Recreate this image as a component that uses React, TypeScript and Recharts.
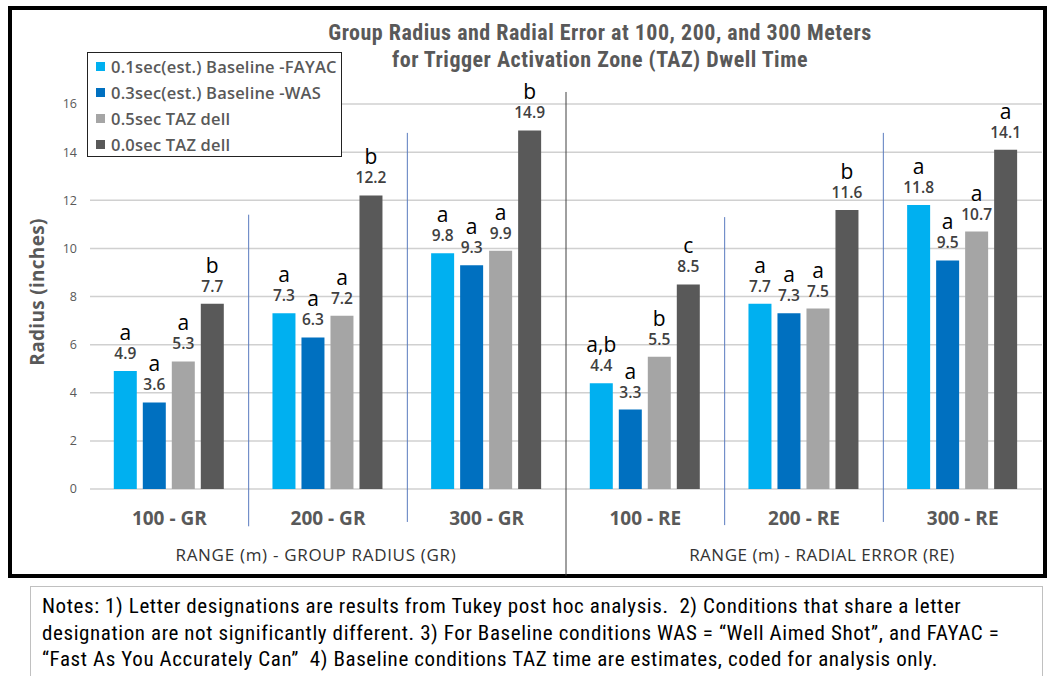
import React from 'react';
import { BarChart, Bar, XAxis, YAxis, CartesianGrid, Legend, LabelList, ReferenceLine } from 'recharts';

const categories = ['100 - GR', '200 - GR', '300 - GR', '100 - RE', '200 - RE', '300 - RE'];
const yTicks = [0, 2, 4, 6, 8, 10, 12, 14, 16];

const seriesNames = ['0.1sec(est.) Baseline -FAYAC', '0.3sec(est.) Baseline -WAS', '0.5sec TAZ dell', '0.0sec TAZ dell'];
const seriesColors = ['#00B0F0', '#0070C0', '#A5A5A5', '#595959'];

const fayac = [4.9, 7.3, 9.8, 4.4, 7.7, 11.8];
const was = [3.6, 6.3, 9.3, 3.3, 7.3, 9.5];
const taz05 = [5.3, 7.2, 9.9, 5.5, 7.5, 10.7];
const taz00 = [7.7, 12.2, 14.9, 8.5, 11.6, 14.1];

// Tukey letters above each bar
const fayacLetters = ['a', 'a', 'a', 'a,b', 'a', 'a'];
const wasLetters = ['a', 'a', 'a', 'a', 'a', 'a'];
const taz05Letters = ['a', 'a', 'a', 'b', 'a', 'a'];
const taz00Letters = ['b', 'b', 'b', 'c', 'b', 'a'];

const noteLines = [
  'Notes: 1) Letter designations are results from Tukey post hoc analysis.  2) Conditions that share a letter',
  'designation are not significantly different. 3) For Baseline conditions WAS = \u201cWell Aimed Shot\u201d, and FAYAC =',
  '\u201cFast As You Accurately Can\u201d  4) Baseline conditions TAZ time are estimates, coded for analysis only.',
];

const data = categories.map((cat, i) => ({
  cat,
  fayac: fayac[i],
  was: was[i],
  taz05: taz05[i],
  taz00: taz00[i],
}));

const seriesKeys = ['fayac', 'was', 'taz05', 'taz00'];
const seriesLetters = [fayacLetters, wasLetters, taz05Letters, taz00Letters];

// divider lines between groups: [category whose left edge, top value, bottom value, colour]
const dividers: [string, number, number, string][] = [
  ['200 - GR', 11.4, -1.55, '#5a7bbf'],
  ['300 - GR', 14.8, -1.37, '#5a7bbf'],
  ['100 - RE', 16.5, -3.6, '#404040'],
  ['200 - RE', 11.3, -1.5, '#5a7bbf'],
  ['300 - RE', 14.8, -1.37, '#5a7bbf'],
];

const SANS = "'Open Sans', 'Noto Sans', sans-serif";
const NARROW = "'Liberation Sans Narrow', 'Roboto Condensed', 'Liberation Sans', sans-serif";

function makeLabel(letters: string[]) {
  return (props: any) => {
    const { x, y, width, value, index } = props;
    const cx = Number(x) + Number(width) / 2;
    const top = Number(y);
    return (
      <g>
        <text x={cx} y={top - 31} textAnchor="middle" fontFamily={SANS} fontSize={21} fill="#000">
          {letters[index]}
        </text>
        <text x={cx} y={top - 12} textAnchor="middle" fontFamily={SANS} fontSize={15.5} fontWeight={600} fill="#404040">
          {value}
        </text>
      </g>
    );
  };
}

function CatTick(props: any) {
  const { x, y, payload } = props;
  return (
    <text x={x} y={Number(y) + 36} textAnchor="middle" fontFamily={SANS} fontSize={19} fontWeight={700} fill="#595959">
      {payload.value}
    </text>
  );
}

function LegendBox(props: any) {
  const items = [...(props.payload || [])].sort(
    (a: any, b: any) => seriesNames.indexOf(a.value) - seriesNames.indexOf(b.value)
  );
  return (
    <div
      style={{
        width: 255,
        height: 105,
        boxSizing: 'border-box',
        border: '1.5px solid #222',
        background: '#fff',
        paddingTop: 0,
      }}
    >
      {items.map((item: any) => (
        <div key={item.value} style={{ display: 'flex', alignItems: 'center', height: 26, paddingLeft: 8 }}>
          <span style={{ width: 9, height: 9, background: item.color, marginRight: 6, display: 'inline-block' }} />
          <span
            style={{
              fontFamily: SANS,
              fontSize: 16.5,
              letterSpacing: 0.2,
              fontWeight: 600,
              color: '#595959',
              whiteSpace: 'nowrap',
            }}
          >
            {item.value}
          </span>
        </div>
      ))}
    </div>
  );
}

export default function App() {
  return (
    <div style={{ position: 'absolute', left: 0, top: 0, width: 1050, height: 676, overflow: 'hidden', background: '#fff' }}>
      <div
        style={{
          position: 'absolute',
          left: 8,
          top: 6,
          width: 1039,
          height: 572,
          boxSizing: 'border-box',
          border: '4px solid #000',
        }}
      />
      <div style={{ position: 'absolute', left: 0, top: 0 }}>
        <BarChart
          width={1050}
          height={580}
          data={data}
          margin={{ top: 104, right: 8, bottom: 51, left: 30 }}
          barCategoryGap="15%"
          barGap={6}
        >
          <CartesianGrid vertical={false} stroke="#d0d0d0" strokeWidth={1.5} />
          <XAxis
            dataKey="cat"
            height={40}
            interval={0}
            tickLine={false}
            axisLine={false}
            tickSize={0}
            tickMargin={0}
            tick={<CatTick />}
          />
          <YAxis
            domain={[0, 16]}
            ticks={yTicks}
            width={60}
            tickLine={false}
            axisLine={false}
            tickSize={0}
            tickMargin={13}
            tick={{ fill: '#595959', fontSize: 12.5, fontFamily: SANS }}
          />
          <Legend
            layout="vertical"
            align="center"
            verticalAlign="middle"
            content={<LegendBox />}
            wrapperStyle={{ left: 87, top: 52, width: 255, height: 105 }}
          />
          {dividers.map(([cat, top, bottom, color]) => (
            <ReferenceLine
              key={cat}
              segment={[{ x: cat, y: top }, { x: cat, y: bottom }]}
              position="start"
              stroke={color}
              strokeWidth={1}
              ifOverflow="visible"
            />
          ))}
          {seriesKeys.map((key, i) => (
            <Bar key={key} dataKey={key} name={seriesNames[i]} fill={seriesColors[i]} isAnimationActive={false}>
              <LabelList dataKey={key} content={makeLabel(seriesLetters[i])} />
            </Bar>
          ))}
        </BarChart>
      </div>
      <svg width={1050} height={676} style={{ position: 'absolute', left: 0, top: 0, pointerEvents: 'none' }}>
        <text
          x={600}
          y={40}
          textAnchor="middle"
          fontFamily={NARROW}
          fontSize={22}
          letterSpacing={0.5}
          fontWeight={700}
          fill="#595959"
        >
          Group Radius and Radial Error at 100, 200, and 300 Meters
        </text>
        <text
          x={600}
          y={67}
          textAnchor="middle"
          fontFamily={NARROW}
          fontSize={22}
          letterSpacing={0.5}
          fontWeight={700}
          fill="#595959"
        >
          for Trigger Activation Zone (TAZ) Dwell Time
        </text>
        <text
          x={44}
          y={292}
          transform="rotate(-90 44 292)"
          textAnchor="middle"
          fontFamily={SANS}
          fontSize={19}
          letterSpacing={0.3}
          fontWeight={700}
          fill="#595959"
        >
          Radius (inches)
        </text>
        <text x={316} y={561} textAnchor="middle" fontFamily={SANS} fontSize={17} letterSpacing={0.7} fill="#333">
          RANGE (m) - GROUP RADIUS (GR)
        </text>
        <text x={822} y={561} textAnchor="middle" fontFamily={SANS} fontSize={17} letterSpacing={0.5} fill="#333">
          RANGE (m) - RADIAL ERROR (RE)
        </text>
      </svg>
      <div
        style={{
          position: 'absolute',
          left: 30,
          top: 586,
          width: 1013,
          height: 110,
          boxSizing: 'border-box',
          border: '1px solid #c0c0c0',
          padding: '6px 0 0 11px',
          fontFamily: NARROW,
          fontSize: 21,
          letterSpacing: 0.6,
          lineHeight: '26.5px',
          color: '#000',
        }}
      >
        {noteLines.map((line) => (
          <div key={line} style={{ whiteSpace: 'pre' }}>
            {line}
          </div>
        ))}
      </div>
    </div>
  );
}
